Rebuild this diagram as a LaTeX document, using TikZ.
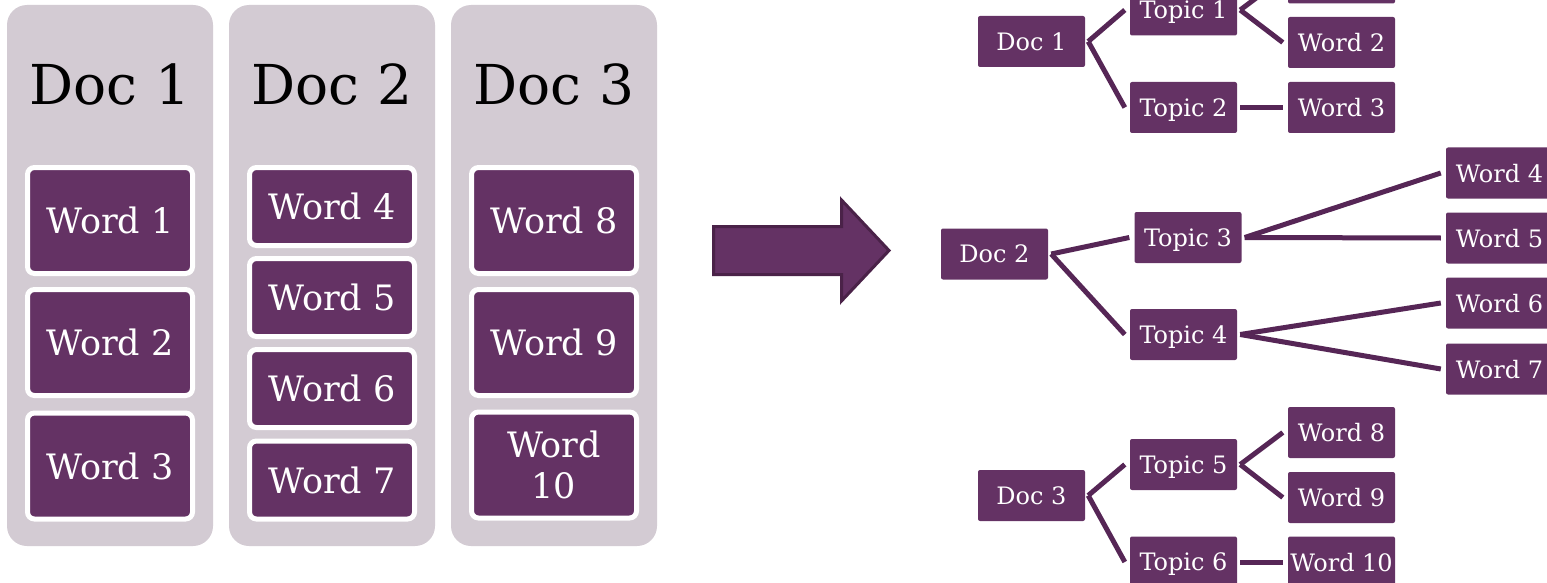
\documentclass[tikz,border=0pt]{standalone}
\usepackage{fontspec}
\setmainfont{DejaVu Serif}
\usetikzlibrary{calc}
\definecolor{plum}{RGB}{100,50,100}
\definecolor{plumline}{RGB}{86,38,86}
\definecolor{plumdark}{RGB}{74,34,72}
\definecolor{panel}{RGB}{211,203,211}

\begin{document}
\begin{tikzpicture}[x=1pt,y=-1pt,
  panelbox/.style={fill=panel, rounded corners=20pt, minimum width=206pt,
    minimum height=541pt, inner sep=0pt},
  heading/.style={font=\fontsize{55}{60}\selectfont, text=black, inner sep=0pt},
  listword/.style={fill=plum, draw=white, line width=5pt, rounded corners=7pt,
    minimum width=165pt, text=white, font=\fontsize{35}{41}\selectfont,
    align=center, inner sep=0pt, text depth=0pt},
  treebox/.style={fill=plum, rounded corners=2pt, minimum width=107pt,
    minimum height=51pt, inner sep=0pt, text=white,
    font=\fontsize{24}{28}\selectfont, text depth=0pt},
  link/.style={draw=plumline, line width=5pt}
]
\useasboundingbox (0,0) rectangle (1547,583);
\clip (0,0) rectangle (1547,583);

% ---- document columns ----
\node[panelbox] (p1) at (110,275.5) {};
\node[panelbox] (p2) at (332,275.5) {};
\node[panelbox] (p3) at (554,275.5) {};

\node[heading] (h1) at (110,84.5) {Doc 1};
\node[heading] (h2) at (332,84.5) {Doc 2};
\node[heading] (h3) at (554,84.5) {Doc 3};

\node[listword, minimum height=106pt] (a1) at (110,220.5) {Word 1};
\node[listword, minimum height=106pt] (a2) at (110,342.5) {Word 2};
\node[listword, minimum height=106pt] (a3) at (110,466) {Word 3};

\node[listword, minimum height=78pt] (b4) at (332,206.5) {Word 4};
\node[listword, minimum height=78pt] (b5) at (332,297.5) {Word 5};
\node[listword, minimum height=78pt] (b6) at (332,388.5) {Word 6};
\node[listword, minimum height=78pt] (b7) at (332,480) {Word 7};

\node[listword, minimum height=106pt] (c8) at (554,220.5) {Word 8};
\node[listword, minimum height=106pt] (c9) at (554,342.5) {Word 9};
\node[listword, minimum height=106pt] (c10) at (554,465) {Word\\10};

% ---- block arrow ----
\draw[fill=plum, draw=plumdark, line width=3pt, line join=miter]
  (713.5,226.5) -- (841.5,226.5) -- (841.5,200) -- (889,250.5)
  -- (841.5,301) -- (841.5,274.5) -- (713.5,274.5) -- cycle;

% ---- topic trees ----
\node[treebox] (d1) at (1031.5,41.5) {Doc 1};
\node[treebox] (t1) at (1183.5,10) {Topic 1};
\node[treebox] (t2) at (1183.5,107.5) {Topic 2};
\node[treebox] (w1) at (1341.5,-22) {};
\node[treebox] (w2) at (1341.5,42.5) {Word 2};
\node[treebox] (w3) at (1341.5,107.5) {Word 3};

\node[treebox] (d2) at (994.5,254) {Doc 2};
\node[treebox] (t3) at (1188,237.5) {Topic 3};
\node[treebox] (t4) at (1183.5,334.5) {Topic 4};
\node[treebox] (w4) at (1499.5,173) {Word 4};
\node[treebox] (w5) at (1499.5,238) {Word 5};
\node[treebox] (w6) at (1499.5,303) {Word 6};
\node[treebox] (w7) at (1499.5,369) {Word 7};

\node[treebox] (d3) at (1031.5,495.5) {Doc 3};
\node[treebox] (t5) at (1183.5,464.5) {Topic 5};
\node[treebox] (t6) at (1183.5,562) {Topic 6};
\node[treebox] (w8) at (1341.5,432.5) {Word 8};
\node[treebox] (w9) at (1341.5,497.5) {Word 9};
\node[treebox] (w10) at (1341.5,562) {Word 10};

% connectors
\foreach \p/\c in {d1/t1, d1/t2, t1/w1, t1/w2, t2/w3,
                   d2/t3, d2/t4, t3/w4, t3/w5, t4/w6, t4/w7,
                   d3/t5, d3/t6, t5/w8, t5/w9, t6/w10}
  \draw[link] ($(\p.east)+(3,0)$) -- ($(\c.west)+(-5,0)$);
\end{tikzpicture}
\end{document}
